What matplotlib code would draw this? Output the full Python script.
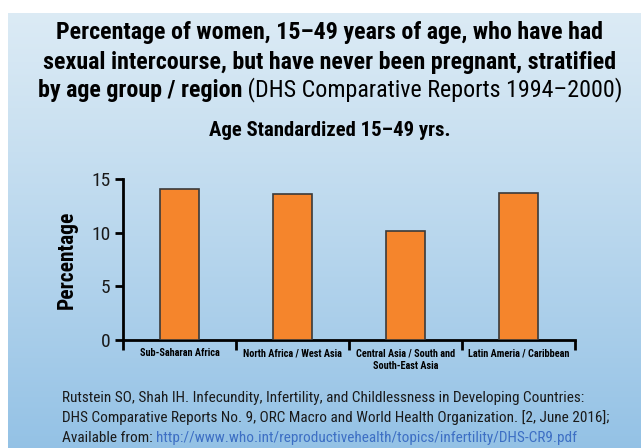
import numpy as np
import matplotlib
matplotlib.use("Agg")
import matplotlib.pyplot as plt

# values read per region (age standardized 15-49 yrs)
regions = ["Sub-Saharan Africa", "North Africa / West Asia",
           "Central Asia / South and\nSouth-East Asia", "Latin Ameria / Caribbean"]
pct = [14.1, 13.6, 10.2, 13.7]
yticks = [0, 5, 10, 15]

title_lines = ["Percentage of women, 15\u201349 years of age, who have had",
               "sexual intercourse, but have never been pregnant, stratified"]
title_bold = "by age group / region"
title_reg = " (DHS Comparative Reports 1994\u20132000)"
subtitle = "Age Standardized 15\u201349 yrs."
ref_lines = ["Rutstein SO, Shah IH. Infecundity, Infertility, and Childlessness in Developing Countries:",
             "DHS Comparative Reports No. 9, ORC Macro and World Health Organization. [2, June 2016];"]
ref_avail = "Available from: "
ref_url = "http://www.who.int/reproductivehealth/topics/infertility/DHS-CR9.pdf"

FONT = ["Roboto Condensed", "Noto Sans Condensed", "Liberation Sans", "DejaVu Sans"]
plt.rcParams["font.family"] = FONT

W, H = 641, 448
fig = plt.figure(figsize=(W / 100, H / 100), dpi=100)
fig.patch.set_facecolor("white")
fig.canvas.draw()
r = fig.canvas.get_renderer()


def fit(t, width_px):
    # scale font so the text spans the given pixel width
    w = t.get_window_extent(r).width
    t.set_fontsize(t.get_fontsize() * width_px / w)
    return t


# blue gradient panel, white strip on top and left
bg = fig.add_axes([0, 0, 1, 1])
bg.set_xlim(0, W)
bg.set_ylim(H, 0)
bg.axis("off")
grad = np.linspace(0, 1, 256)[:, None]
top = np.array([0.86, 0.92, 0.96])
bot = np.array([0.58, 0.76, 0.90])
img = top + (bot - top) * grad[..., None] ** 1.1
img = np.repeat(img, 2, axis=1)
bg.imshow(img, extent=[8, W, H, 13], aspect="auto", zorder=0)

ax = fig.add_axes([123 / W, (H - 340) / H, 452 / W, 161 / H])
ax.patch.set_alpha(0)
x = np.arange(len(regions))
ax.bar(x, pct, width=0.35, color="#f5852c", edgecolor="#3a3a3a", linewidth=1.2, zorder=3)
ax.set_xlim(-0.5, 3.5)
ax.set_ylim(0, 15)
ax.set_yticks(yticks)
ax.set_yticklabels([str(t) for t in yticks], fontsize=14, color="#1a1a1a")
ax.set_xticks(x)
ax.set_xticklabels(regions, fontsize=6.5, fontweight="bold", linespacing=1.3)
ax.set_xticks(np.arange(-0.5, 4, 1), minor=True)
ax.tick_params(axis="x", which="major", length=0, pad=6)
ax.tick_params(axis="x", which="minor", length=7, width=2, direction="out")
ax.tick_params(axis="y", length=6, width=2, pad=3)
for s in ["top", "right"]:
    ax.spines[s].set_visible(False)
for s in ["left", "bottom"]:
    ax.spines[s].set_linewidth(2)
ax.set_ylabel("Percentage", fontsize=15.5, fontweight="bold", labelpad=10)

fig.canvas.draw()
xl = ax.get_xticklabels()
fs = fit(xl[0], 81).get_fontsize()
for t in xl:
    t.set_fontsize(fs)

cx = 330
t1 = fit(fig.text(cx / W, 1 - 33 / H, title_lines[0], ha="center", va="center",
                  fontsize=16, fontweight="bold"), 546)
tfs = t1.get_fontsize()
fig.text(cx / W, 1 - 62 / H, title_lines[1], ha="center", va="center",
         fontsize=tfs, fontweight="bold")
# mixed weight third line, centred as one piece
tb = fig.text(0, 1 - 90 / H, title_bold, ha="left", va="center", fontsize=tfs, fontweight="bold")
tr = fig.text(0, 1 - 90 / H, title_reg, ha="left", va="center", fontsize=tfs)
wb = tb.get_window_extent(r).width
wr = tr.get_window_extent(r).width
x0 = cx - (wb + wr) / 2
tb.set_x(x0 / W)
tr.set_x((x0 + wb) / W)

fit(fig.text(cx / W, 1 - 130 / H, subtitle, ha="center", va="center",
             fontsize=15, fontweight="bold"), 242)

fx = 62
f2 = fit(fig.text(fx / W, 1 - 418 / H, ref_lines[1], ha="left", va="center",
                  fontsize=10.5, color="#1a1a1a"), 548)
rfs = f2.get_fontsize()
fig.text(fx / W, 1 - 398 / H, ref_lines[0], ha="left", va="center", fontsize=rfs, color="#1a1a1a")
ta = fig.text(fx / W, 1 - 438 / H, ref_avail, ha="left", va="center", fontsize=rfs, color="#1a1a1a")
wa = ta.get_window_extent(r).width
fig.text((fx + wa) / W, 1 - 438 / H, ref_url, ha="left", va="center", fontsize=rfs, color="#3d6fc4")

fig.savefig("out.png", dpi=100)
